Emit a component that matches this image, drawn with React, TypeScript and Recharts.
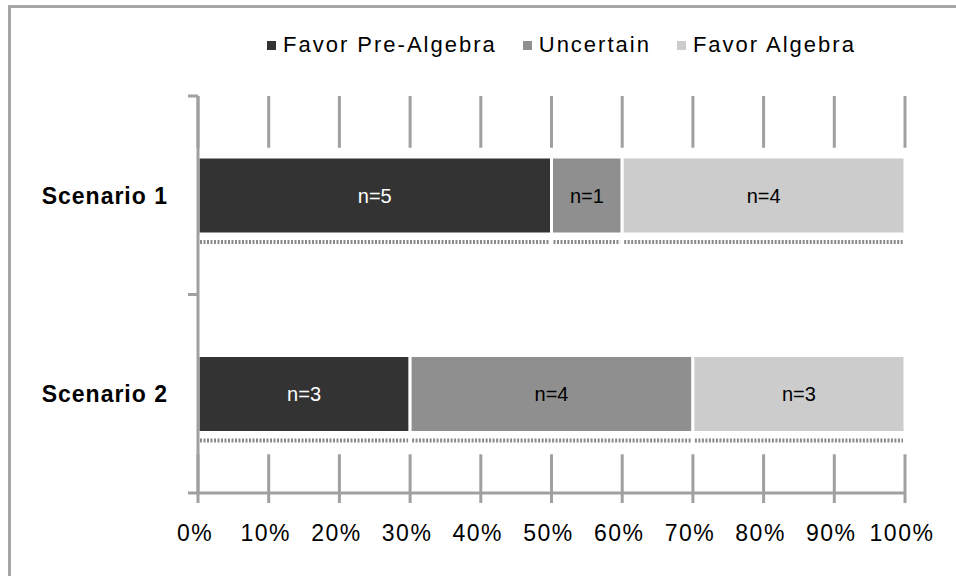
import React from "react";
import { BarChart, Bar, XAxis, YAxis, CartesianGrid, Legend, LabelList } from "recharts";

const categories = ["Scenario 1", "Scenario 2"];
const favorPreAlgebra = [5, 3];
const uncertain = [1, 4];
const favorAlgebra = [4, 3];
const xTicks = [0, 0.1, 0.2, 0.3, 0.4, 0.5, 0.6, 0.7, 0.8, 0.9, 1];
const xTickLabels = ["0%", "10%", "20%", "30%", "40%", "50%", "60%", "70%", "80%", "90%", "100%"];

const seriesNames = ["Favor Pre-Algebra", "Uncertain", "Favor Algebra"];
const seriesColors = ["#333333", "#8f8f8f", "#cccccc"];

const data = categories.map((name, i) => ({
  name,
  pre: favorPreAlgebra[i],
  unc: uncertain[i],
  alg: favorAlgebra[i],
}));

const FONT = '"Liberation Sans", Arial, sans-serif';
const AXIS_GRAY = "#a0a0a0";
const Y_AXIS_W = 198;
const BAR_SIZE = 77;

// bar rect with the dotted strip Excel leaves under each segment
const SegmentShape = (props: any) => {
  const { x, y, width, height, fill } = props;
  if (width == null || width <= 0) return null;
  return (
    <g>
      <rect x={x} y={y} width={width} height={height} fill={fill} stroke="#fff" strokeWidth={3} />
      <line
        x1={x + 2}
        x2={x + width - 2}
        y1={y + height + 8}
        y2={y + height + 8}
        stroke="#8a8a8a"
        strokeWidth={4}
        strokeDasharray="2 1.5"
      />
    </g>
  );
};

// gridlines only show above the first bar and below the last one
const GridLine = (props: any) => {
  const { x1, y1, y2, index } = props;
  const band = (y2 - y1) / categories.length;
  const topEnd = y1 + band / 2 - BAR_SIZE / 2 - 9;
  const bottomStart = y2 - band / 2 + BAR_SIZE / 2 + 22;
  return (
    <g key={`vg-${index}`}>
      <line x1={x1} x2={x1} y1={y1} y2={topEnd} stroke={AXIS_GRAY} strokeWidth={3} />
      <line x1={x1} x2={x1} y1={bottomStart} y2={y2} stroke={AXIS_GRAY} strokeWidth={3} />
    </g>
  );
};

const CategoryTick = (props: any) => {
  const { y, payload, height, visibleTicksCount } = props;
  const band = height && visibleTicksCount ? height / visibleTicksCount : 198.5;
  return (
    <g>
      <line x1={Y_AXIS_W - 10} x2={Y_AXIS_W} y1={y - band / 2} y2={y - band / 2} stroke={AXIS_GRAY} strokeWidth={3} />
      <line x1={Y_AXIS_W - 10} x2={Y_AXIS_W} y1={y + band / 2} y2={y + band / 2} stroke={AXIS_GRAY} strokeWidth={3} />
      <text
        x={168}
        y={y}
        dy="0.36em"
        textAnchor="end"
        fontFamily={FONT}
        fontWeight="bold"
        fontSize={23}
        letterSpacing={1}
        fill="#000"
      >
        {payload.value}
      </text>
    </g>
  );
};

const LegendContent = () => (
  <div style={{ display: "flex", alignItems: "center", fontFamily: FONT, fontSize: 22, letterSpacing: 2, color: "#000" }}>
    {seriesNames.map((n, i) => (
      <div key={n} style={{ display: "flex", alignItems: "center", marginRight: 26 }}>
        <span style={{ width: 9, height: 9, background: seriesColors[i], marginRight: 7, display: "inline-block" }} />
        <span>{n}</span>
      </div>
    ))}
  </div>
);

export default function App() {
  return (
    <div style={{ position: "absolute", left: 0, top: 0, width: 956, height: 576, background: "#fff", overflow: "hidden" }}>
      <div
        style={{
          position: "absolute",
          left: 8,
          top: 5,
          width: 945,
          height: 568,
          borderTop: "3px solid #a6a6a6",
          borderLeft: "3px solid #a6a6a6",
        }}
      />
      <div style={{ position: "absolute", left: 0, top: 0 }}>
        <BarChart
          width={956}
          height={576}
          data={data}
          layout="vertical"
          stackOffset="expand"
          barSize={BAR_SIZE}
          margin={{ top: 96, right: 51, bottom: 23, left: 0 }}
        >
          <CartesianGrid horizontal={false} vertical={GridLine} stroke={AXIS_GRAY} />
          <XAxis
            type="number"
            domain={[0, 1]}
            ticks={xTicks}
            tickFormatter={(v: number) => xTickLabels[xTicks.indexOf(v)] ?? ""}
            height={60}
            tickSize={10}
            tickMargin={22}
            axisLine={{ stroke: AXIS_GRAY, strokeWidth: 3 }}
            tickLine={{ stroke: AXIS_GRAY, strokeWidth: 3 }}
            tick={{ fill: "#000", fontSize: 23, fontFamily: FONT, letterSpacing: 1.5, dx: -3 }}
            interval={0}
          />
          <YAxis
            type="category"
            dataKey="name"
            width={Y_AXIS_W}
            axisLine={{ stroke: AXIS_GRAY, strokeWidth: 3 }}
            tickLine={false}
            tick={<CategoryTick />}
            interval={0}
          />
          <Legend
            verticalAlign="middle"
            align="center"
            content={<LegendContent />}
            wrapperStyle={{ top: 32, left: 267, width: 680, height: 30 }}
          />
          <Bar dataKey="pre" stackId="a" fill={seriesColors[0]} shape={<SegmentShape />} isAnimationActive={false}>
            <LabelList dataKey="pre" position="center" fill="#fff" fontSize={20} fontFamily={FONT} formatter={(v: any) => `n=${v}`} />
          </Bar>
          <Bar dataKey="unc" stackId="a" fill={seriesColors[1]} shape={<SegmentShape />} isAnimationActive={false}>
            <LabelList dataKey="unc" position="center" fill="#000" fontSize={20} fontFamily={FONT} formatter={(v: any) => `n=${v}`} />
          </Bar>
          <Bar dataKey="alg" stackId="a" fill={seriesColors[2]} shape={<SegmentShape />} isAnimationActive={false}>
            <LabelList dataKey="alg" position="center" fill="#000" fontSize={20} fontFamily={FONT} formatter={(v: any) => `n=${v}`} />
          </Bar>
        </BarChart>
      </div>
    </div>
  );
}
